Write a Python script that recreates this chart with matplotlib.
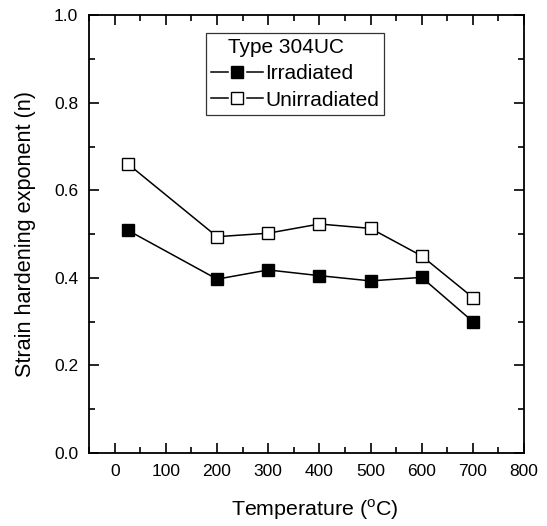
import matplotlib
matplotlib.use("Agg")
import matplotlib.pyplot as plt
from matplotlib.ticker import MultipleLocator
from matplotlib.lines import Line2D
from matplotlib.legend_handler import HandlerTuple

plt.rcParams['font.family'] = ['Liberation Sans', 'DejaVu Sans']
plt.rcParams['mathtext.fontset'] = 'custom'
plt.rcParams['mathtext.rm'] = 'Liberation Sans'

temperature = [25, 200, 300, 400, 500, 600, 700]
irradiated = [0.509, 0.397, 0.418, 0.405, 0.393, 0.401, 0.300]
unirradiated = [0.661, 0.494, 0.502, 0.523, 0.513, 0.450, 0.355]
legend_title = "Type 304UC"
series_names = ["Irradiated", "Unirradiated"]

fig = plt.figure(figsize=(5.47, 5.26), dpi=100)
ax = fig.add_axes([0.163, 0.139, 0.795, 0.832])

ax.plot(temperature, irradiated, '-s', color='black', lw=1.1, ms=8,
        mfc='black', mec='black', label=series_names[0])
ax.plot(temperature, unirradiated, '-s', color='black', lw=1.1, ms=8,
        mfc='white', mec='black', mew=1.0, label=series_names[1])

ax.set_xlim(-50, 800)
ax.set_ylim(0.0, 1.0)
ax.xaxis.set_minor_locator(MultipleLocator(50))
ax.yaxis.set_major_locator(MultipleLocator(0.2))
ax.yaxis.set_minor_locator(MultipleLocator(0.1))
ax.set_xticks(range(0, 801, 100))
ax.yaxis.set_major_formatter(matplotlib.ticker.FormatStrFormatter('%.1f'))

ax.tick_params(which='both', direction='in', top=True, right=True,
               labeltop=False, labelright=False, labelsize=12.5, width=1.2)
ax.tick_params(which='major', length=7, pad=8)
ax.tick_params(which='minor', length=4)
for s in ax.spines.values():
    s.set_linewidth(1.3)

ax.set_xlabel(r'Temperature ($^{\rm o}$C)', fontsize=15.4, labelpad=13.5)
ax.xaxis.label.set_x(0.518)
ax.set_ylabel('Strain hardening exponent (n)', fontsize=15.6, labelpad=13)

# legend handles: line with a gap around the marker
def make_handle(face):
    line = Line2D([], [], color='black', lw=1.1)
    gap = Line2D([], [], ls='none', marker='s', ms=12, mfc='white', mec='white')
    mk = Line2D([], [], ls='none', marker='s', ms=8, mfc=face, mec='black', mew=1.0)
    return (line, gap, mk)

handles = [make_handle('black'), make_handle('white')]
leg = ax.legend(handles, series_names, title='   ' + legend_title,
                handler_map={tuple: HandlerTuple(ndivide=1, pad=0)},
                loc='upper left', bbox_to_anchor=(0.268, 0.96),
                fontsize=15, title_fontsize=15, frameon=True, fancybox=False,
                edgecolor='black', handlelength=2.5, handletextpad=0.1,
                borderpad=0.25, labelspacing=0.35, borderaxespad=0)
leg._legend_box.align = 'left'
leg.get_frame().set_linewidth(0.9)

fig.savefig('out.png', dpi=100)
